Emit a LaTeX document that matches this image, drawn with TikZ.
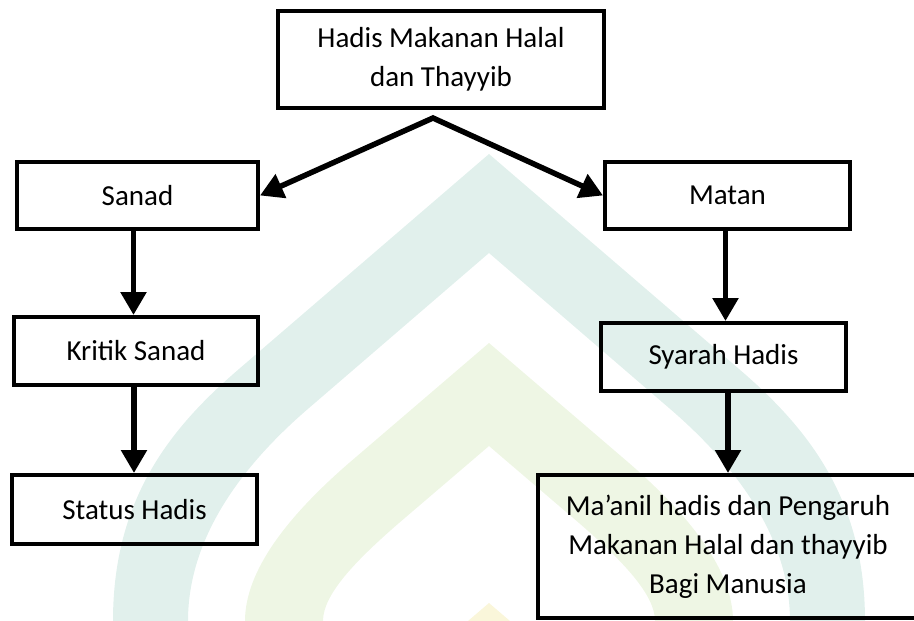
\documentclass[tikz,border=0pt]{standalone}
\usepackage{fontspec}
\setmainfont{Carlito}
\usetikzlibrary{arrows.meta}
\definecolor{wmteal}{RGB}{225,240,236}
\definecolor{wmyellow}{RGB}{238,246,228}
\definecolor{wmgold}{RGB}{250,246,218}

\begin{document}
\begin{tikzpicture}[x=1pt,y=-1pt,
  box/.style={draw, line width=4pt, align=center, inner sep=0pt, font=\fontsize{29}{39}\selectfont},
  flow/.style={line width=5.5pt, -{Triangle[length=23pt,width=25pt]}}]
\useasboundingbox (0,0) rectangle (914,621);
\clip (0,0) rectangle (914,621);
% watermark in the background
\fill[wmteal] (113,621) .. controls (113,500) and (169,429) .. (239,369) -- (489,154) -- (739,369)
  .. controls (809,429) and (865,500) .. (865,621) -- (790,621) .. controls (790,540) and (739,468) .. (669,408)
  -- (489,253) -- (309,408) .. controls (239,468) and (188,540) .. (188,621) -- cycle;
\fill[wmyellow] (245,621) .. controls (245,570) and (289,515) .. (349,463) -- (489,343) -- (629,463)
  .. controls (689,515) and (733,570) .. (733,621) -- (655,621) .. controls (655,595) and (624,562) .. (579,523)
  -- (489,446) -- (399,523) .. controls (354,562) and (323,595) .. (323,621) -- cycle;
\fill[wmgold] (489,603) -- (510,621) -- (468,621) -- cycle;
% boxes
\node[box, minimum width=326pt, minimum height=97pt] (hadis) at (441,59.5) {Hadis Makanan Halal\\dan Thayyib};
\node[box, minimum width=241pt, minimum height=67pt] (sanad) at (137.5,195.5) {Sanad};
\node[box, minimum width=245pt, minimum height=67pt] (matan) at (727.5,195.5) {Matan};
\node[box, minimum width=244pt, minimum height=68pt] (kritik) at (136,351) {Kritik Sanad};
\node[box, minimum width=245pt, minimum height=68pt] (syarah) at (723.5,357) {Syarah Hadis};
\node[box, minimum width=245pt, minimum height=69pt] (status) at (134.5,509.5) {Status Hadis};
\node[box, draw=none, outer sep=0pt, minimum width=384pt, minimum height=147pt] (maanil) at (728,546.5) {Ma’anil hadis dan Pengaruh\\Makanan Halal dan thayyib\\Bagi Manusia};
\draw[line width=4pt] ([xshift=2pt,yshift=-2pt]maanil.north west) rectangle ([xshift=40pt,yshift=2pt]maanil.south east);
% arrows
\coordinate (fork) at (433,118);
\draw[line width=5.5pt, line join=miter, {Triangle[length=23pt,width=25pt]}-{Triangle[length=23pt,width=25pt]}]
  (sanad.east) -- (fork) -- (matan.west);
\draw[flow] ([xshift=-4pt]sanad.south) -- ([xshift=-4pt]sanad.south |- kritik.north);
\draw[flow] ([xshift=-2pt]kritik.south) -- ([xshift=-2pt]kritik.south |- status.north);
\draw[flow] ([xshift=-2pt]matan.south) -- ([xshift=-2pt]matan.south |- syarah.north);
\draw[flow] (syarah.south -| maanil.north) -- (maanil.north);
\end{tikzpicture}
\end{document}
